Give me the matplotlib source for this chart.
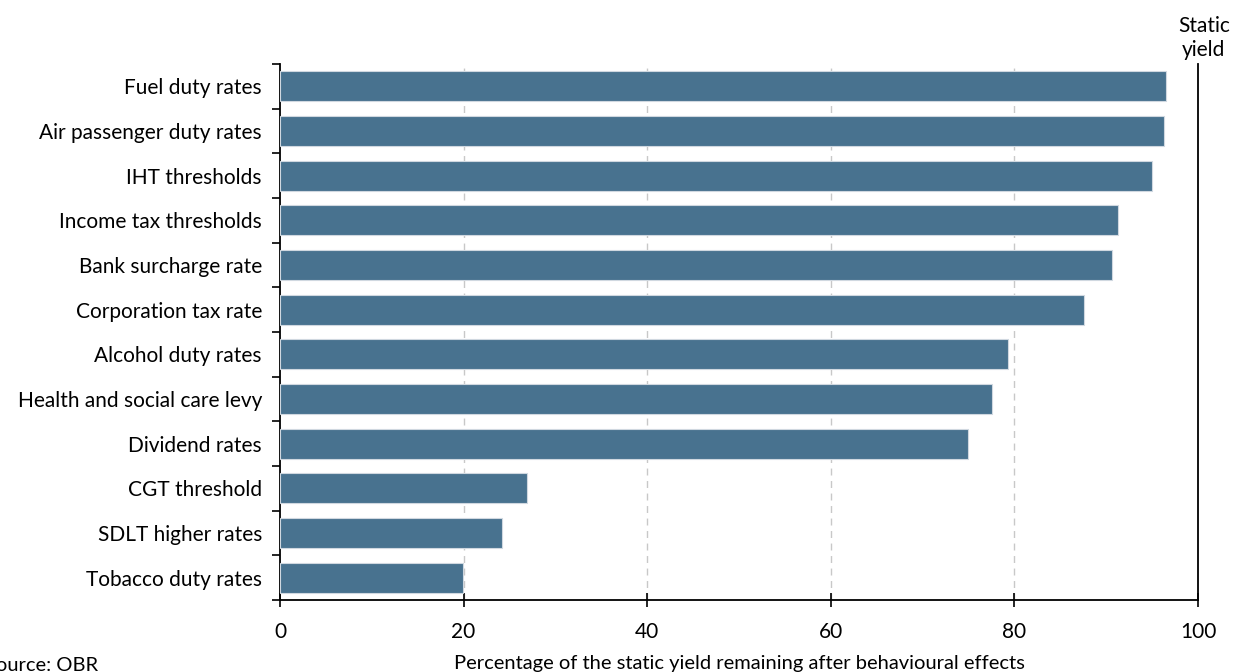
import numpy as np
import matplotlib.pyplot as plt

categories = ['Fuel duty rates', 'Air passenger duty rates', 'IHT thresholds',
              'Income tax thresholds', 'Bank surcharge rate', 'Corporation tax rate',
              'Alcohol duty rates', 'Health and social care levy', 'Dividend rates',
              'CGT threshold', 'SDLT higher rates', 'Tobacco duty rates']
values = [96.5, 96.3, 95.0, 91.3, 90.6, 87.6, 79.3, 77.6, 74.9, 26.9, 24.2, 19.9]
xticks = [0, 20, 40, 60, 80, 100]

plt.rcParams['font.family'] = ['Lato', 'DejaVu Sans']

fig = plt.figure(figsize=(12.34, 6.72), dpi=100)
ax = fig.add_axes([0.2269, 0.1071, 0.7439, 0.7977])

y = np.arange(len(categories))
ax.barh(y, values, height=0.67, color='#48728F', edgecolor='#d0d8e0', linewidth=0.8, zorder=3)

ax.set_ylim(len(categories) - 0.5, -0.5)
ax.set_xlim(0, 100)
ax.set_yticks(y)
ax.set_yticklabels(categories, fontsize=15)
ax.set_yticks(np.arange(len(categories) + 1) - 0.5, minor=True)
ax.tick_params(axis='y', which='major', length=0, pad=13)
ax.tick_params(axis='y', which='minor', length=6, width=1.2, direction='out')

ax.set_xticks(xticks)
ax.set_xticklabels([str(t) for t in xticks], fontsize=15)
ax.tick_params(axis='x', length=10, width=1.2, direction='inout', pad=11)

for t in xticks[1:-1]:
    ax.axvline(t, color='#c8c8c8', linestyle=(0, (5, 4)), linewidth=1, zorder=1)

ax.spines['top'].set_visible(False)
for s in ['left', 'right', 'bottom']:
    ax.spines[s].set_linewidth(1.3)

ax.set_xlabel('Percentage of the static yield remaining after behavioural effects',
              fontsize=14.5, labelpad=9)
ax.text(1.0065, 1.008, 'Static\nyield', transform=ax.transAxes, ha='center', va='bottom',
        fontsize=15, linespacing=1.25, multialignment='center')
fig.text(-0.012, 0.01, 'Source: OBR', ha='left', va='center', fontsize=14.5)

fig.savefig('out.png', dpi=100)
